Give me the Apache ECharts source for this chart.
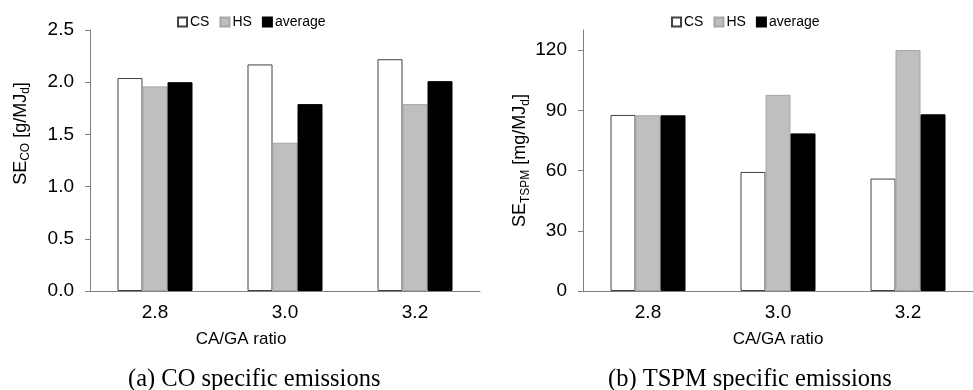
<!DOCTYPE html>
<html>
<head>
<meta charset="utf-8">
<script src="https://cdn.jsdelivr.net/npm/echarts@6/dist/echarts.min.js"></script>
<style>
  html, body { margin: 0; padding: 0; background: #fff; }
  #main { width: 973px; height: 390px; }
</style>
</head>
<body>
<div id="main"></div>
<script>
// data
const ratios = ['2.8', '3.0', '3.2'];
const seriesNames = ['CS', 'HS', 'average'];

// (a) CO specific emissions [g/MJd]
const coCS = [2.04, 2.17, 2.22];
const coHS = [1.96, 1.42, 1.79];
const coAvg = [2.00, 1.79, 2.01];

// (b) TSPM specific emissions [mg/MJd]
const tspmCS = [87.7, 59.3, 56.0];
const tspmHS = [87.5, 97.7, 120.0];
const tspmAvg = [87.5, 78.5, 88.0];

const font = '"Liberation Sans", Arial, sans-serif';
const serif = '"Liberation Serif", "Times New Roman", serif';

const barStyles = [
  { color: '#ffffff', borderColor: '#404040', borderWidth: 1 },
  { color: '#bfbfbf', borderColor: '#a6a6a6', borderWidth: 1 },
  { color: '#000000', borderColor: '#000000', borderWidth: 1 }
];

function makeSeries(values, idx) {
  return values.map(function (vals, i) {
    return {
      name: seriesNames[i],
      type: 'bar',
      xAxisIndex: idx,
      yAxisIndex: idx,
      data: vals,
      barWidth: 25,
      barGap: '0%',
      itemStyle: barStyles[i]
    };
  });
}

function yAxis(idx, max, interval, digits, name, pad) {
  return {
    type: 'value',
    gridIndex: idx,
    min: 0,
    max: max,
    interval: interval,
    name: name,
    nameLocation: 'middle',
    nameRotate: 90,
    nameGap: idx === 0 ? 58 : 46,
    nameTextStyle: {
      padding: pad,
      rich: {
        a: { fontFamily: font, fontSize: 18, color: '#000' },
        b: { fontFamily: font, fontSize: 12, color: '#000', padding: [10, 0, 0, 0] }
      }
    },
    axisLine: { show: true, lineStyle: { color: '#808080', width: 1 } },
    axisTick: { show: true, inside: false, length: 5, lineStyle: { color: '#808080' } },
    splitLine: { show: false },
    axisLabel: {
      fontFamily: font, fontSize: 19, color: '#000', margin: 16,
      showMaxLabel: idx === 0,
      formatter: function (v) { return v.toFixed(digits); }
    }
  };
}

function xAxis(idx, pad) {
  return {
    type: 'category',
    gridIndex: idx,
    data: ratios,
    name: 'CA/GA ratio',
    nameLocation: 'middle',
    nameGap: 40,
    nameTextStyle: { fontFamily: font, fontSize: 17, color: '#000', padding: pad },
    axisLine: { lineStyle: { color: '#808080', width: 1 } },
    axisTick: { show: false },
    axisLabel: { fontFamily: font, fontSize: 19, color: '#000', margin: 12 }
  };
}

function legend(left) {
  return {
    left: left,
    top: 10,
    itemWidth: 9,
    itemHeight: 9,
    itemGap: 10,
    icon: 'rect',
    textStyle: { fontFamily: font, fontSize: 14, color: '#000', padding: [0, 0, 0, -2] },
    data: seriesNames.map(function (n) { return { name: n }; })
  };
}

const chart = echarts.init(document.getElementById('main'));
const option = {
  animation: false,
  backgroundColor: '#fff',
  legend: [
    Object.assign(legend(172), { seriesIndex: [0, 1, 2] }),
    Object.assign(legend(666), { seriesIndex: [3, 4, 5] })
  ],
  grid: [
    { left: 90, right: 493, top: 30, bottom: 99 },
    { left: 583, right: 0, top: 30, bottom: 99 }
  ],
  xAxis: [xAxis(0, [0, 88, 0, 0]), xAxis(1, [0, 0, 0, 0])],
  yAxis: [
    yAxis(0, 2.5, 0.5, 1, '{a|SE}{b|CO}{a| [g/MJ}{b|d}{a|]}', [0, 0, 0, 54]),
    yAxis(1, 130, 30, 0, '{a|SE}{b|TSPM}{a| [mg/MJ}{b|d}{a|]}', [0, 0, 0, 0])
  ],
  series: makeSeries([coCS, coHS, coAvg], 0).concat(makeSeries([tspmCS, tspmHS, tspmAvg], 1)),
  graphic: [
    {
      type: 'text', left: 128, top: 367,
      style: { text: '(a) CO specific emissions', fontFamily: serif, fontSize: 24.5, fill: '#000' }
    },
    {
      type: 'text', left: 608, top: 367,
      style: { text: '(b) TSPM specific emissions', fontFamily: serif, fontSize: 24.5, fill: '#000' }
    }
  ]
};
chart.setOption(option);
</script>
</body>
</html>
